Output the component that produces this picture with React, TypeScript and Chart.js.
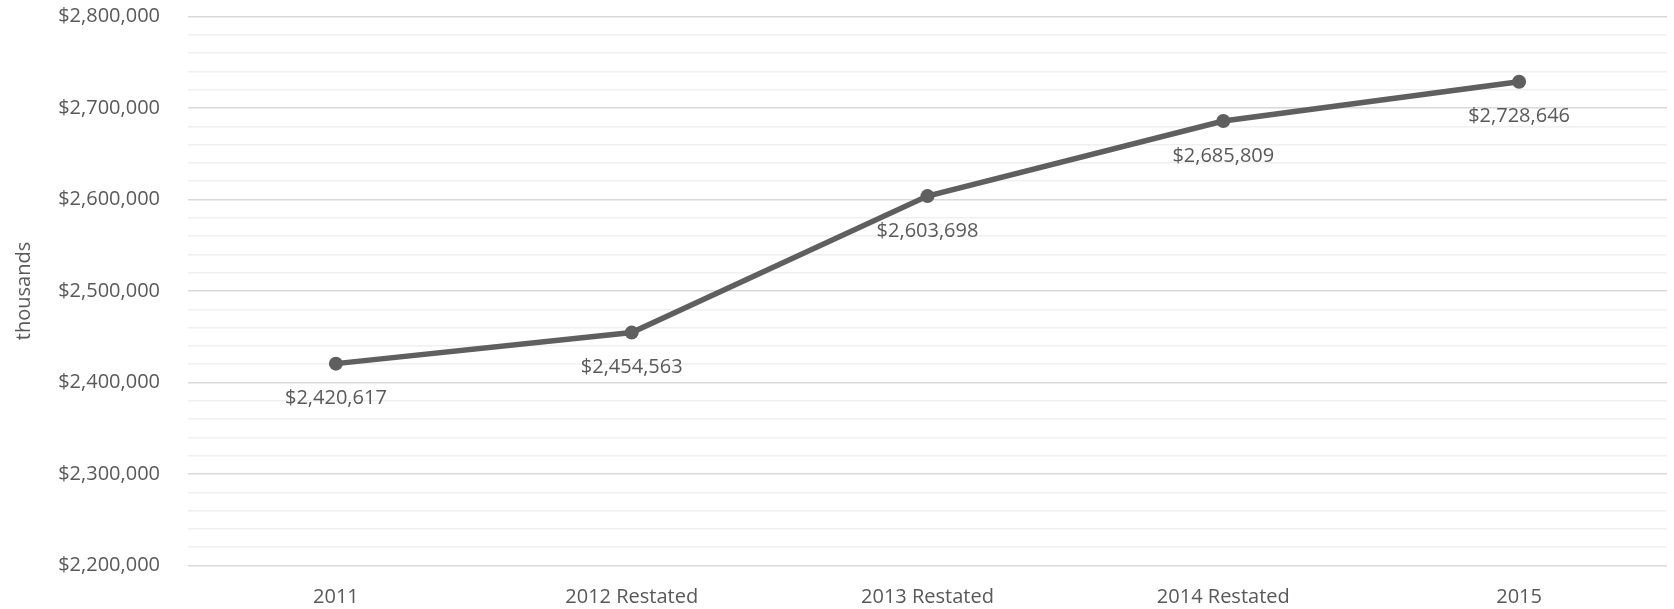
import React, { useEffect, useRef } from "react";
import { Chart, registerables } from "chart.js";

Chart.register(...registerables);

const categories = ["2011", "2012 Restated", "2013 Restated", "2014 Restated", "2015"];
const revenue = [2420617, 2454563, 2603698, 2685809, 2728646];
const yMin = 2200000;
const yMax = 2800000;
const yStep = 20000;
const yTitle = "thousands";

const FONT = "'Open Sans', 'DejaVu Sans', sans-serif";
const TEXT = "#595959";
const FS = 20;

const fmt = (v: number) => "$" + v.toLocaleString("en-US");

const labelPlugin = {
  id: "pointLabels",
  afterDatasetsDraw(chart: any) {
    const ctx = chart.ctx;
    const meta = chart.getDatasetMeta(0);
    ctx.save();
    ctx.font = `${FS}px ${FONT}`;
    ctx.fillStyle = TEXT;
    ctx.textAlign = "center";
    ctx.textBaseline = "middle";
    meta.data.forEach((pt: any, i: number) => {
      ctx.fillText(fmt(revenue[i]), pt.x, pt.y + 35);
    });
    ctx.restore();
  },
};

export default function App() {
  const ref = useRef<HTMLCanvasElement>(null);
  useEffect(() => {
    document.body.style.margin = "0";
    const chart = new Chart(ref.current!, {
      type: "line",
      data: {
        labels: categories,
        datasets: [
          {
            data: revenue,
            borderColor: "#5f5f5f",
            backgroundColor: "#5f5f5f",
            borderWidth: 5.5,
            pointRadius: 7,
            pointHoverRadius: 7,
            pointBorderWidth: 0,
            tension: 0,
          },
        ],
      },
      options: {
        animation: false,
        responsive: false,
        maintainAspectRatio: false,
        layout: { padding: { top: 16.5, right: 4, left: 0, bottom: 0 } },
        plugins: { legend: { display: false }, tooltip: { enabled: false } },
        scales: {
          x: {
            offset: true,
            grid: { display: false },
            border: { display: false },
            ticks: { color: TEXT, font: { family: FONT, size: FS }, padding: 12 },
            afterFit: (s: any) => {
              s.height = 43.5;
              s.paddingLeft = 0;
              s.paddingRight = 0;
            },
          },
          y: {
            min: yMin,
            max: yMax,
            border: { display: false },
            grid: {
              color: (c: any) => (c.tick && c.tick.value % 100000 === 0 ? "#d9d9d9" : "#f0f0f0"),
              lineWidth: 1.5,
              drawTicks: false,
            },
            ticks: {
              stepSize: yStep,
              autoSkip: false,
              color: TEXT,
              padding: 28,
              font: { family: FONT, size: FS },
              callback: (v: any) => (Number(v) % 100000 === 0 ? fmt(Number(v)) : ""),
            },
            title: {
              display: true,
              text: yTitle,
              color: TEXT,
              font: { family: FONT, size: FS },
              padding: { top: 12, bottom: 0 },
            },
            afterFit: (s: any) => {
              s.width = 188;
              s.paddingTop = 0;
              s.paddingBottom = 0;
            },
          },
        },
      },
      plugins: [labelPlugin],
    });
    return () => chart.destroy();
  }, []);
  return <canvas ref={ref} width={1674} height={609} style={{ display: "block" }} />;
}
